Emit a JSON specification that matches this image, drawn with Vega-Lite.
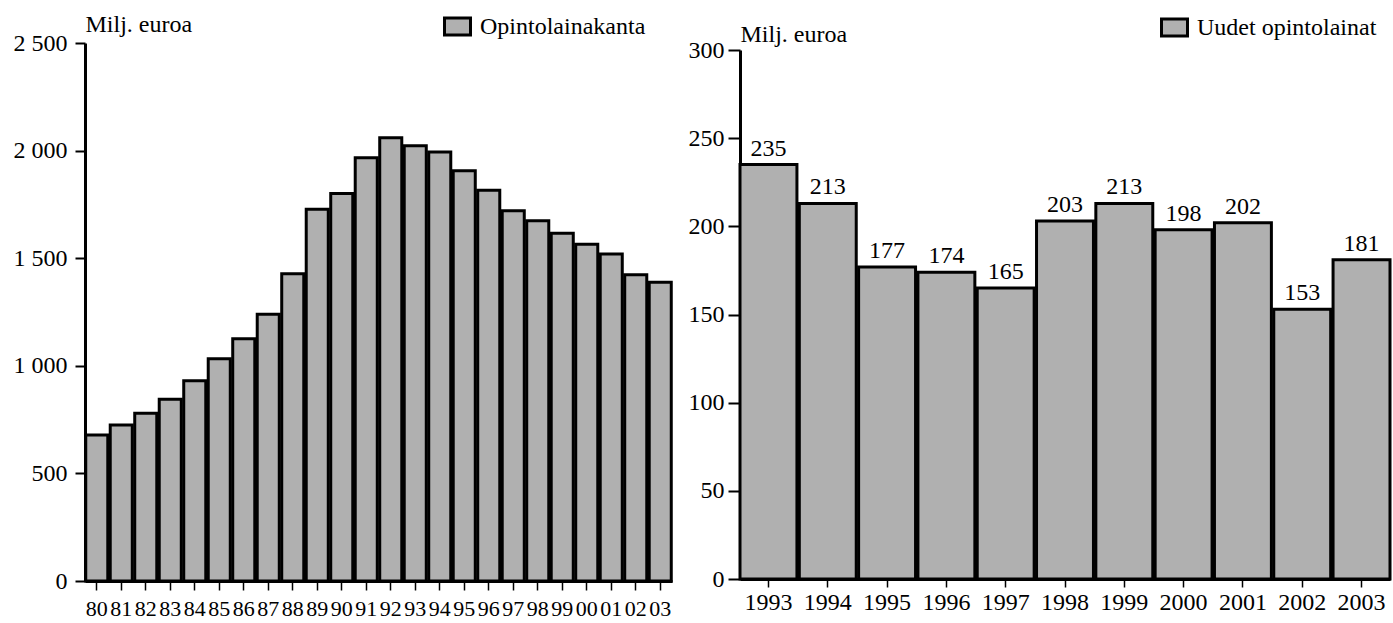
{
  "$schema": "https://vega.github.io/schema/vega-lite/v6.json",
  "background": "white",
  "padding": {"left": 13, "top": 12, "right": 3, "bottom": 0},
  "spacing": 15,
  "config": {
    "font": "Liberation Serif, Times New Roman, Times, serif",
    "view": {"stroke": null},
    "axis": {
      "labelFont": "Liberation Serif, Times New Roman, Times, serif",
      "labelFontSize": 24,
      "labelColor": "black",
      "tickColor": "black",
      "domainColor": "black",
      "grid": false,
      "titleFont": "Liberation Serif, Times New Roman, Times, serif",
      "titleFontSize": 24,
      "titleFontWeight": "normal",
      "titleColor": "black"
    },
    "legend": {
      "labelFont": "Liberation Serif, Times New Roman, Times, serif",
      "labelFontSize": 24,
      "labelColor": "black",
      "labelLimit": 400,
      "symbolType": "M-1,-0.65H1V0.65H-1Z",
      "symbolSize": 676,
      "symbolStrokeColor": "black",
      "symbolStrokeWidth": 3,
      "labelOffset": 8,
      "padding": 0
    }
  },
  "resolve": {"scale": {"color": "independent"}, "legend": {"color": "independent"}},
  "hconcat": [
    {
      "width": 587,
      "height": 538,
      "data": {"values": [
        {"yy": "80", "value": 679, "series": "Opintolainakanta"},
        {"yy": "81", "value": 725, "series": "Opintolainakanta"},
        {"yy": "82", "value": 779, "series": "Opintolainakanta"},
        {"yy": "83", "value": 845, "series": "Opintolainakanta"},
        {"yy": "84", "value": 930, "series": "Opintolainakanta"},
        {"yy": "85", "value": 1033, "series": "Opintolainakanta"},
        {"yy": "86", "value": 1126, "series": "Opintolainakanta"},
        {"yy": "87", "value": 1240, "series": "Opintolainakanta"},
        {"yy": "88", "value": 1428, "series": "Opintolainakanta"},
        {"yy": "89", "value": 1727, "series": "Opintolainakanta"},
        {"yy": "90", "value": 1801, "series": "Opintolainakanta"},
        {"yy": "91", "value": 1967, "series": "Opintolainakanta"},
        {"yy": "92", "value": 2060, "series": "Opintolainakanta"},
        {"yy": "93", "value": 2023, "series": "Opintolainakanta"},
        {"yy": "94", "value": 1994, "series": "Opintolainakanta"},
        {"yy": "95", "value": 1906, "series": "Opintolainakanta"},
        {"yy": "96", "value": 1816, "series": "Opintolainakanta"},
        {"yy": "97", "value": 1721, "series": "Opintolainakanta"},
        {"yy": "98", "value": 1674, "series": "Opintolainakanta"},
        {"yy": "99", "value": 1616, "series": "Opintolainakanta"},
        {"yy": "00", "value": 1565, "series": "Opintolainakanta"},
        {"yy": "01", "value": 1519, "series": "Opintolainakanta"},
        {"yy": "02", "value": 1423, "series": "Opintolainakanta"},
        {"yy": "03", "value": 1388, "series": "Opintolainakanta"}
      ]},
      "mark": {"type": "bar", "stroke": "black", "strokeWidth": 3, "strokeJoin": "miter"},
      "encoding": {
        "x": {
          "field": "yy", "type": "ordinal", "sort": null,
          "scale": {"paddingInner": 0.1, "paddingOuter": 0.03},
          "axis": {"title": null, "labelAngle": 0, "labelFontSize": 22, "domainWidth": 3, "tickSize": 9, "tickWidth": 1.5, "labelPadding": 8}
        },
        "y": {
          "field": "value", "type": "quantitative",
          "scale": {"domain": [0, 2500]},
          "axis": {
            "values": [0, 500, 1000, 1500, 2000, 2500],
            "labelExpr": "replace(format(datum.value, ','), ',', ' ')",
            "title": "Milj. euroa", "titleAngle": 0, "titleAlign": "left", "titleBaseline": "alphabetic",
            "titleX": 0, "titleY": -12,
            "domainWidth": 3, "tickSize": 10, "tickWidth": 2, "labelPadding": 8
          }
        },
        "color": {
          "field": "series", "type": "nominal",
          "scale": {"range": ["#b0b0b0"]},
          "legend": {"title": null, "orient": "none", "legendX": 358, "legendY": -31}
        }
      }
    },
    {
      "width": 650,
      "height": 536,
      "data": {"values": [
        {"year": "1993", "value": 235, "series": "Uudet opintolainat"},
        {"year": "1994", "value": 213, "series": "Uudet opintolainat"},
        {"year": "1995", "value": 177, "series": "Uudet opintolainat"},
        {"year": "1996", "value": 174, "series": "Uudet opintolainat"},
        {"year": "1997", "value": 165, "series": "Uudet opintolainat"},
        {"year": "1998", "value": 203, "series": "Uudet opintolainat"},
        {"year": "1999", "value": 213, "series": "Uudet opintolainat"},
        {"year": "2000", "value": 198, "series": "Uudet opintolainat"},
        {"year": "2001", "value": 202, "series": "Uudet opintolainat"},
        {"year": "2002", "value": 153, "series": "Uudet opintolainat"},
        {"year": "2003", "value": 181, "series": "Uudet opintolainat"}
      ]},
      "encoding": {
        "x": {
          "field": "year", "type": "ordinal",
          "scale": {"paddingInner": 0.04, "paddingOuter": 0},
          "axis": {"title": null, "labelAngle": 0, "domainWidth": 3, "tickSize": 8, "tickWidth": 1.5, "labelPadding": 3}
        },
        "y": {
          "field": "value", "type": "quantitative",
          "scale": {"domain": [0, 300], "range": [536, 7]},
          "axis": {
            "values": [0, 50, 100, 150, 200, 250, 300],
            "title": "Milj. euroa", "titleAngle": 0, "titleAlign": "left", "titleBaseline": "alphabetic",
            "titleX": 0, "titleY": -2,
            "domainWidth": 3, "tickSize": 12, "tickWidth": 2, "labelPadding": 4
          }
        }
      },
      "layer": [
        {
          "mark": {"type": "bar", "stroke": "black", "strokeWidth": 3, "strokeJoin": "miter"},
          "encoding": {
            "color": {
              "field": "series", "type": "nominal",
              "scale": {"range": ["#b0b0b0"]},
              "legend": {"title": null, "orient": "none", "legendX": 420, "legendY": -30}
            }
          }
        },
        {
          "mark": {"type": "text", "baseline": "bottom", "dy": -4, "font": "Liberation Serif, Times New Roman, Times, serif", "fontSize": 24, "color": "black"},
          "encoding": {"text": {"field": "value", "type": "quantitative"}}
        }
      ]
    }
  ]
}
